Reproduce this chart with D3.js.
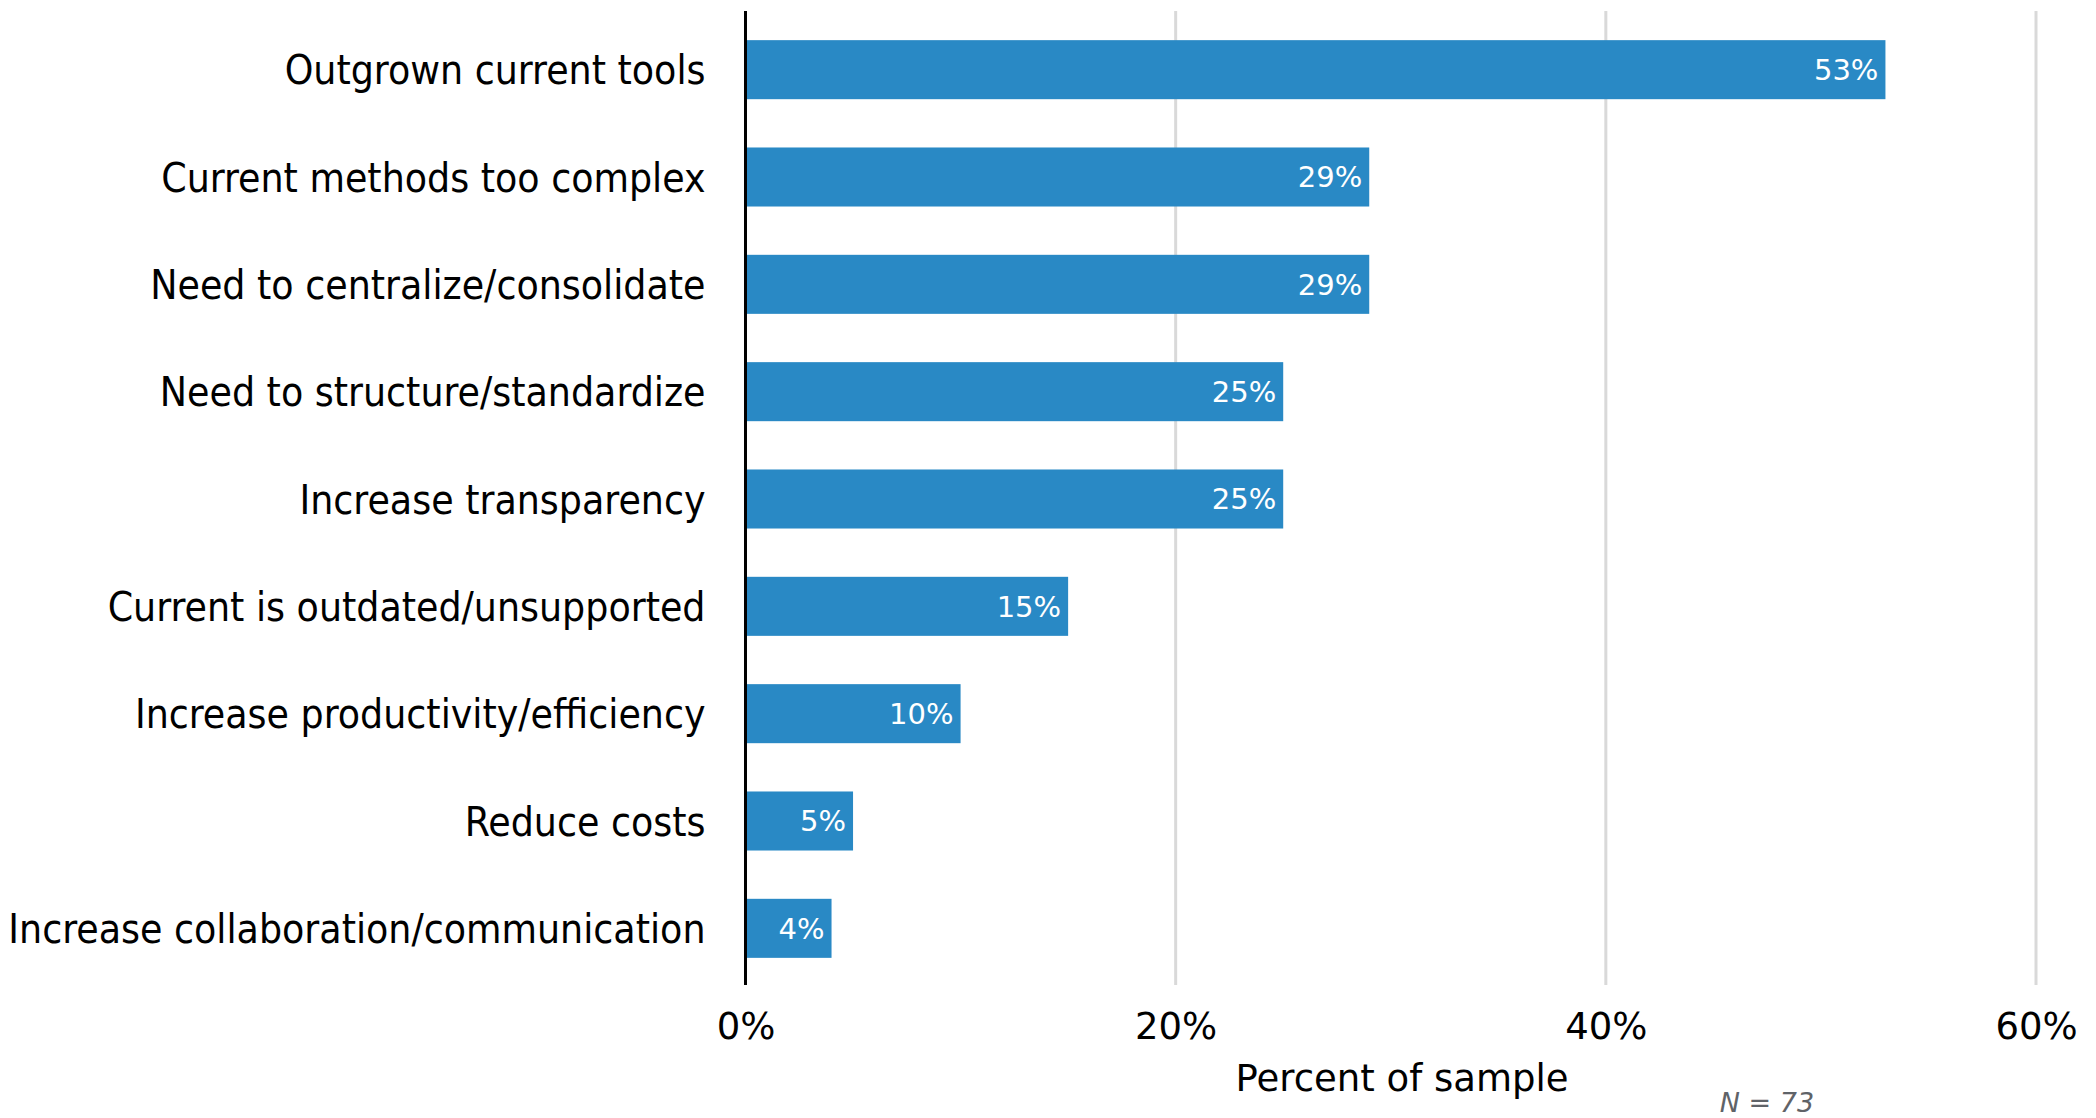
<!DOCTYPE html>
<html>
<head>
<meta charset="utf-8">
<script src="https://cdn.jsdelivr.net/npm/d3@7"></script>
<style>
  body { margin: 0; background: #fff; }
</style>
</head>
<body>
<script>
// Reasons for switching, share of respondents
var categories = [
  "Outgrown current tools",
  "Current methods too complex",
  "Need to centralize/consolidate",
  "Need to structure/standardize",
  "Increase transparency",
  "Current is outdated/unsupported",
  "Increase productivity/efficiency",
  "Reduce costs",
  "Increase collaboration/communication"
];
var values = [53, 29, 29, 25, 25, 15, 10, 5, 4];
var xTicks = [0, 20, 40, 60];
var sampleSize = 73;

var width = 2096, height = 1118;
var left = 745.5, right = 2036;

var svg = d3.select("body").append("svg")
    .attr("width", width)
    .attr("height", height);

var data = categories.map(function(c, i) { return {name: c, value: values[i]}; });

// scales
var x = d3.scaleLinear()
    .domain([0, 60])
    .range([left, right]);

var y = d3.scaleBand()
    .domain(categories)
    .range([16, 982])
    .paddingInner(0.45)
    .paddingOuter(0.225);

// gridlines
svg.append("g")
    .selectAll("line")
    .data(xTicks.slice(1))
    .enter().append("line")
    .attr("x1", function(d) { return x(d); })
    .attr("x2", function(d) { return x(d); })
    .attr("y1", 11)
    .attr("y2", 985)
    .attr("stroke", "#d9d9d9")
    .attr("stroke-width", 3);

// bars
svg.selectAll(".bar")
    .data(data)
    .enter().append("rect")
    .attr("class", "bar")
    .attr("x", x(0))
    .attr("y", function(d) { return y(d.name); })
    .attr("width", function(d) { return x(d.value) - x(0); })
    .attr("height", y.bandwidth())
    .attr("fill", "#2989c5");

// value labels
svg.selectAll(".val")
    .data(data)
    .enter().append("text")
    .attr("class", "val")
    .attr("x", function(d) { return x(d.value) - 7; })
    .attr("y", function(d) { return y(d.name) + y.bandwidth() / 2; })
    .attr("dy", "0.36em")
    .attr("text-anchor", "end")
    .attr("fill", "#fff")
    .style("font-family", "'DejaVu Sans', Verdana, sans-serif")
    .style("font-size", "29px")
    .text(function(d) { return d.value + "%"; });

// category labels
var yAxis = d3.axisLeft(y).tickSize(0).tickPadding(40);
var gy = svg.append("g")
    .attr("transform", "translate(" + left + ",0)")
    .call(yAxis);
gy.select(".domain").remove();
gy.selectAll("text")
    .attr("fill", "#000")
    .attr("dy", "0.36em")
    .style("font-family", "'DejaVu Sans Condensed', 'DejaVu Sans', sans-serif")
    .style("font-stretch", "condensed")
    .style("font-size", "40.5px");

// y axis line
svg.append("line")
    .attr("x1", left)
    .attr("x2", left)
    .attr("y1", 11)
    .attr("y2", 985)
    .attr("stroke", "#000")
    .attr("stroke-width", 3);

// x axis tick labels
var xAxis = d3.axisBottom(x)
    .tickValues(xTicks)
    .tickSize(0)
    .tickPadding(0)
    .tickFormat(function(d) { return d + "%"; });
var gx = svg.append("g")
    .attr("transform", "translate(0,1000)")
    .call(xAxis);
gx.select(".domain").remove();
gx.selectAll("text")
    .attr("fill", "#000")
    .attr("dy", "39px")
    .style("font-family", "'DejaVu Sans', Verdana, sans-serif")
    .style("font-size", "37px");

// axis title
svg.append("text")
    .attr("x", 1402)
    .attr("y", 1091)
    .attr("text-anchor", "middle")
    .style("font-family", "'DejaVu Sans', Verdana, sans-serif")
    .style("font-size", "37px")
    .text("Percent of sample");

// sample note
svg.append("text")
    .attr("x", 1767)
    .attr("y", 1112)
    .attr("text-anchor", "middle")
    .attr("fill", "#5f6368")
    .style("font-family", "'DejaVu Sans', sans-serif")
    .style("font-style", "italic")
    .style("font-size", "27px")
    .text("N = " + sampleSize);
</script>
</body>
</html>
